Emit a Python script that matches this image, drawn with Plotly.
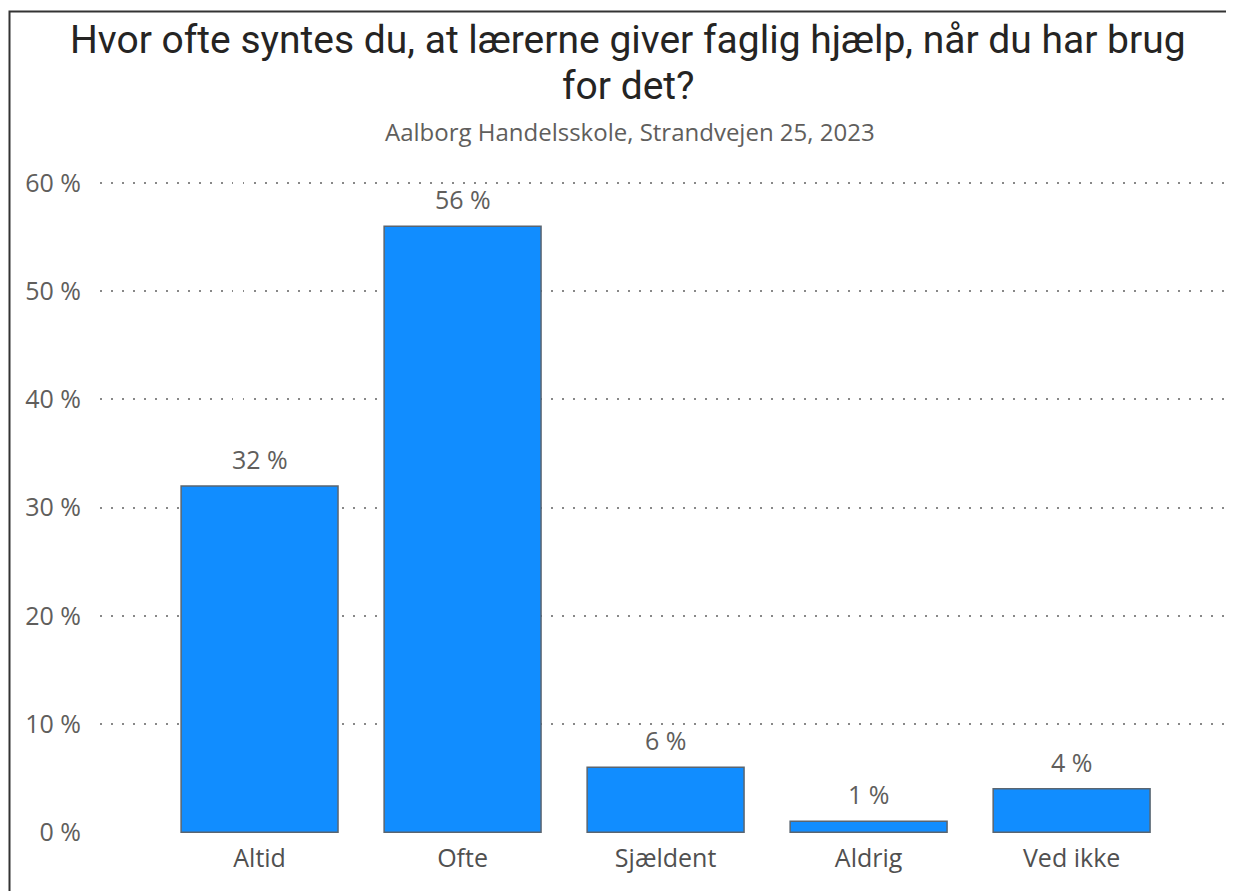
import plotly.graph_objects as go

categories = ["Altid", "Ofte", "Sjældent", "Aldrig", "Ved ikke"]
values = [32, 56, 6, 1, 4]
y_ticks = [0, 10, 20, 30, 40, 50, 60]
y_tick_labels = [f"{v} %" for v in y_ticks]

title_line1 = "Hvor ofte syntes du, at lærerne giver faglig hjælp, når du har brug"
title_line2 = "for det?"
subtitle = "Aalborg Handelsskole, Strandvejen 25, 2023"

# page offset of the figure inside the browser (body margin)
OX, OY = 8, 8
W, H = 1226, 883
L, R, T, B = 100 - OX, 2, 182 - OY, 58
plot_h = H - T - B
plot_w = W - L - R


def py(y_screen):
    return (H - B - (y_screen - OY)) / plot_h


def px(x_screen):
    return ((x_screen - OX) - L) / plot_w


fig = go.Figure()
fig.add_trace(go.Bar(
    x=list(range(len(categories))),
    y=values,
    width=0.773,
    marker=dict(color="#118DFF", line=dict(color="#5A6570", width=1.5)),
    hoverinfo="skip",
))

for i, v in enumerate(values):
    fig.add_annotation(x=i, y=v, text=f"{v} %", showarrow=False, yshift=27,
                       yanchor="middle", font=dict(family="Open Sans", size=25, color="#605E5C"))

fig.add_annotation(xref="paper", yref="paper", x=px(628), y=py(40), text=title_line1,
                   showarrow=False, xanchor="center", yanchor="middle",
                   font=dict(family="Roboto", size=39, color="#252423"))
fig.add_annotation(xref="paper", yref="paper", x=px(628), y=py(86), text=title_line2,
                   showarrow=False, xanchor="center", yanchor="middle",
                   font=dict(family="Roboto", size=39, color="#252423"))
fig.add_annotation(xref="paper", yref="paper", x=px(630), y=py(131), text=subtitle,
                   showarrow=False, xanchor="center", yanchor="middle",
                   font=dict(family="Open Sans", size=24, color="#605E5C"))

fig.add_shape(type="rect", xref="paper", yref="paper",
              x0=px(9.5), x1=px(1300), y0=py(1000), y1=py(11.5),
              line=dict(color="#333333", width=2), layer="above")

fig.update_layout(
    width=W, height=H,
    margin=dict(l=L, r=R, t=T, b=B),
    paper_bgcolor="white", plot_bgcolor="white",
    showlegend=False,
    xaxis=dict(
        range=[-0.786, 4.79],
        tickvals=list(range(len(categories))),
        ticktext=categories,
        showgrid=False, zeroline=False, showline=False,
        tickfont=dict(family="Open Sans", size=25, color="#505050"),
        ticks="", ticklen=0, ticklabelstandoff=8,
    ),
    yaxis=dict(
        range=[-0.08, 60.1],
        tickvals=y_ticks,
        ticktext=y_tick_labels,
        showgrid=True, gridcolor="#888888", griddash="1.5px,9.5px", gridwidth=1.6,
        zeroline=False, showline=False,
        tickfont=dict(family="Open Sans", size=25, color="#605E5C"),
        ticks="", ticklabelstandoff=18,
    ),
)

fig.write_html("out.html")
